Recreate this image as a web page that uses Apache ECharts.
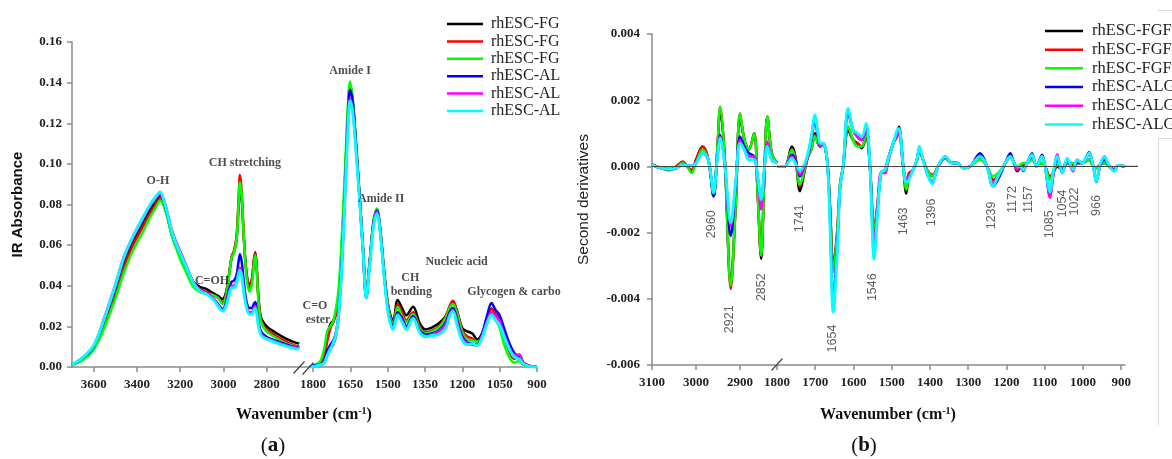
<!DOCTYPE html>
<html>
<head>
<meta charset="utf-8">
<script src="https://cdn.jsdelivr.net/npm/echarts@6/dist/echarts.min.js"></script>
<style>
  html, body { margin: 0; padding: 0; background: #fff; }
  #chart { width: 1172px; height: 459px; }
</style>
</head>
<body>
<div id="chart"></div>
<script>
const seriesNames = ['rhESC-FGF-1', 'rhESC-FGF-2', 'rhESC-FGF-3', 'rhESC-ALG-1', 'rhESC-ALG-2', 'rhESC-ALG-3'];
const colors = ['#000000', '#ff0000', '#00ff00', '#0000ff', '#ff00ff', '#00ffff'];

// ---- (a) IR absorbance, high wavenumber part ----
const absLeftWn = [
  3700, 3650, 3600, 3550, 3500, 3460, 3420, 3380, 3340, 3310,
  3293, 3275, 3260, 3240, 3220, 3200, 3170, 3140, 3110, 3080,
  3050, 3025, 3005, 2990, 2975, 2962, 2952, 2940, 2930, 2924,
  2916, 2905, 2893, 2880, 2868, 2860, 2853, 2846, 2838, 2828,
  2815, 2795, 2760, 2720, 2680, 2650];
const absLeftFGF1 = [
  0.001, 0.004, 0.0095, 0.022, 0.037, 0.051, 0.061, 0.069, 0.077, 0.0815,
  0.0845, 0.0805, 0.075, 0.066, 0.060, 0.055, 0.0485, 0.042, 0.0395, 0.0385,
  0.0365, 0.035, 0.0335, 0.036, 0.045, 0.054, 0.0565, 0.062, 0.079, 0.090,
  0.083, 0.062, 0.046, 0.0405, 0.0435, 0.052, 0.0565, 0.049, 0.034, 0.025,
  0.022, 0.0195, 0.017, 0.0145, 0.0125, 0.0115];
const absLeftFGF2 = [
  0.001, 0.0038, 0.009, 0.021, 0.0355, 0.049, 0.0595, 0.0675, 0.0755, 0.0805,
  0.083, 0.0795, 0.0745, 0.0655, 0.0595, 0.0545, 0.048, 0.0415, 0.0385, 0.037,
  0.0355, 0.034, 0.032, 0.035, 0.045, 0.0545, 0.057, 0.064, 0.083, 0.0945,
  0.087, 0.063, 0.045, 0.039, 0.043, 0.052, 0.056, 0.048, 0.033, 0.024,
  0.0205, 0.018, 0.0155, 0.013, 0.011, 0.010];
const absLeftFGF3 = [
  0.001, 0.0035, 0.0085, 0.0195, 0.0335, 0.0465, 0.057, 0.065, 0.0735, 0.079,
  0.082, 0.079, 0.074, 0.065, 0.059, 0.053, 0.046, 0.0395, 0.037, 0.036,
  0.0355, 0.034, 0.031, 0.034, 0.044, 0.054, 0.056, 0.062, 0.080, 0.091,
  0.085, 0.062, 0.044, 0.037, 0.041, 0.050, 0.055, 0.047, 0.032, 0.023,
  0.0195, 0.017, 0.0145, 0.012, 0.0105, 0.0095];
const absLeftALG1 = [
  0.001, 0.0045, 0.010, 0.0235, 0.039, 0.053, 0.063, 0.071, 0.079, 0.0835,
  0.0855, 0.0815, 0.0755, 0.067, 0.061, 0.056, 0.049, 0.042, 0.038, 0.0365,
  0.034, 0.031, 0.0285, 0.031, 0.038, 0.042, 0.0425, 0.045, 0.052, 0.0555,
  0.052, 0.041, 0.032, 0.029, 0.029, 0.031, 0.032, 0.028, 0.022, 0.018,
  0.016, 0.0145, 0.013, 0.0115, 0.010, 0.0095];
const absLeftALG2 = [
  0.001, 0.0048, 0.0105, 0.0245, 0.0405, 0.0545, 0.064, 0.072, 0.0795, 0.0835,
  0.085, 0.082, 0.0765, 0.068, 0.062, 0.057, 0.0495, 0.042, 0.038, 0.0365,
  0.034, 0.0305, 0.028, 0.030, 0.036, 0.040, 0.040, 0.042, 0.047, 0.049,
  0.046, 0.037, 0.030, 0.027, 0.027, 0.029, 0.030, 0.027, 0.021, 0.017,
  0.015, 0.014, 0.0125, 0.011, 0.0098, 0.0093];
const absLeftALG3 = [
  0.001, 0.0047, 0.0105, 0.024, 0.040, 0.054, 0.0638, 0.072, 0.0798, 0.0843,
  0.0862, 0.082, 0.076, 0.067, 0.061, 0.056, 0.0488, 0.0415, 0.0375, 0.036,
  0.0335, 0.030, 0.0275, 0.0295, 0.035, 0.039, 0.039, 0.041, 0.046, 0.0475,
  0.045, 0.036, 0.029, 0.026, 0.026, 0.028, 0.029, 0.026, 0.020, 0.016,
  0.0145, 0.0135, 0.012, 0.0105, 0.0093, 0.0088];

// ---- (a) IR absorbance, fingerprint part ----
const absRightWn = [
  1812, 1790, 1770, 1755, 1742, 1730, 1718, 1706, 1696, 1684,
  1671, 1660, 1651, 1640, 1626, 1613, 1599, 1586, 1573, 1557,
  1543, 1530, 1513, 1496, 1478, 1460, 1442, 1425, 1398, 1371,
  1348, 1321, 1294, 1267, 1251, 1238, 1220, 1200, 1180, 1160,
  1140, 1119, 1099, 1083, 1066, 1052, 1032, 1012, 992, 972,
  954, 931, 900];
const absRightFGF1 = [
  0, 0.001, 0.002, 0.006, 0.016, 0.021, 0.023, 0.027, 0.036, 0.058,
  0.093, 0.124, 0.139, 0.131, 0.108, 0.085, 0.059, 0.037, 0.051, 0.071,
  0.0775, 0.068, 0.046, 0.029, 0.0225, 0.033, 0.029, 0.0255, 0.0297, 0.0215,
  0.0185, 0.0195, 0.0215, 0.025, 0.029, 0.032, 0.027, 0.019, 0.0175, 0.0165,
  0.0135, 0.017, 0.024, 0.0288, 0.026, 0.024, 0.016, 0.009, 0.0045, 0.006,
  0.002, 0.0005, 0];
const absRightFGF2 = [
  0, 0.001, 0.002, 0.005, 0.013, 0.019, 0.022, 0.027, 0.037, 0.059,
  0.093, 0.123, 0.138, 0.130, 0.107, 0.084, 0.058, 0.035, 0.050, 0.071,
  0.0775, 0.068, 0.045, 0.028, 0.021, 0.031, 0.027, 0.023, 0.027, 0.020,
  0.017, 0.018, 0.020, 0.025, 0.030, 0.0326, 0.027, 0.018, 0.015, 0.014,
  0.0125, 0.016, 0.024, 0.0285, 0.026, 0.024, 0.015, 0.008, 0.004, 0.005,
  0.002, 0.0005, 0];
const absRightFGF3 = [
  0, 0.001, 0.003, 0.009, 0.018, 0.020, 0.023, 0.030, 0.040, 0.065,
  0.098, 0.128, 0.1405, 0.131, 0.108, 0.084, 0.057, 0.034, 0.051, 0.072,
  0.078, 0.068, 0.045, 0.028, 0.021, 0.0295, 0.025, 0.022, 0.026, 0.019,
  0.0165, 0.0175, 0.0195, 0.024, 0.029, 0.031, 0.026, 0.017, 0.0135, 0.013,
  0.0125, 0.0155, 0.022, 0.026, 0.023, 0.020, 0.011, 0.005, 0.002, 0.003,
  0.001, 0.0003, 0];
const absRightALG1 = [
  0, 0.001, 0.001, 0.003, 0.008, 0.011, 0.013, 0.018, 0.028, 0.052,
  0.088, 0.121, 0.1365, 0.130, 0.107, 0.084, 0.057, 0.034, 0.050, 0.071,
  0.077, 0.067, 0.044, 0.026, 0.020, 0.027, 0.024, 0.020, 0.025, 0.018,
  0.016, 0.0165, 0.018, 0.022, 0.027, 0.029, 0.023, 0.015, 0.012, 0.0115,
  0.011, 0.017, 0.026, 0.0315, 0.028, 0.026, 0.019, 0.012, 0.007, 0.005,
  0.002, 0.0005, 0];
const absRightALG2 = [
  0, 0.0005, 0.001, 0.002, 0.006, 0.009, 0.011, 0.016, 0.026, 0.049,
  0.085, 0.117, 0.132, 0.126, 0.105, 0.083, 0.057, 0.034, 0.050, 0.070,
  0.0765, 0.067, 0.044, 0.026, 0.019, 0.026, 0.023, 0.019, 0.024, 0.0175,
  0.015, 0.016, 0.0175, 0.021, 0.026, 0.028, 0.022, 0.014, 0.0115, 0.011,
  0.0105, 0.016, 0.023, 0.027, 0.025, 0.023, 0.016, 0.010, 0.006, 0.006,
  0.002, 0.0005, 0];
const absRightALG3 = [
  0, 0.0005, 0.001, 0.002, 0.006, 0.009, 0.012, 0.017, 0.027, 0.050,
  0.085, 0.116, 0.131, 0.125, 0.104, 0.082, 0.057, 0.034, 0.049, 0.069,
  0.0755, 0.066, 0.043, 0.025, 0.0185, 0.0255, 0.022, 0.0185, 0.024, 0.017,
  0.015, 0.0155, 0.016, 0.019, 0.025, 0.0275, 0.020, 0.013, 0.011, 0.0115,
  0.0105, 0.015, 0.022, 0.0256, 0.023, 0.021, 0.015, 0.009, 0.005, 0.004,
  0.0015, 0.0003, 0];

// ---- (b) second derivatives, high wavenumber part ----
const d2LeftWn = [
  3100, 3080, 3060, 3045, 3030, 3020, 3010, 3000, 2985, 2972,
  2960, 2952, 2945, 2935, 2921, 2910, 2900, 2890, 2880, 2868,
  2860, 2852, 2845, 2838, 2828, 2816];
const d2LeftFGF1 = [
  0.00005, -0.00005, -0.0001, -0.00005, 0.0001, 0, -0.00015, 0.0002, 0.0006, 0.0002,
  -0.0009, 0.0004, 0.0017, 0.0003, -0.0035, -0.0012, 0.0015, 0.0008, 0.0005, 0.0010,
  -0.0008, -0.0028, -0.0004, 0.0015, 0.0004, 0.0001];
const d2LeftFGF2 = [
  0.00005, -0.00005, -0.00012, 0, 0.00015, 0, -0.0001, 0.0002, 0.0006, 0.0002,
  -0.0009, 0.0004, 0.0018, 0.0003, -0.0037, -0.0012, 0.0016, 0.0008, 0.0005, 0.0010,
  -0.0008, -0.0027, -0.0004, 0.0015, 0.0004, 0.0001];
const d2LeftFGF3 = [
  0.00005, -0.00005, -0.0001, -0.00005, 0.0001, 0, -0.0002, 0.0001, 0.0005, 0.0002,
  -0.0009, 0.0004, 0.0018, 0.0003, -0.0036, -0.0012, 0.0016, 0.0008, 0.0005, 0.0010,
  -0.0008, -0.0027, -0.0004, 0.0015, 0.0004, 0.0001];
const d2LeftALG1 = [
  0.00005, -0.00005, -0.00008, -0.00005, 0.00005, 0.00003, 0.00002, 0.0001, 0.0004, 0.0002,
  -0.0009, 0.0002, 0.00095, 0.0001, -0.0021, -0.0006, 0.0009, 0.0006, 0.0004, 0.0003,
  -0.0003, -0.0011, -0.0001, 0.0007, 0.0002, 0.0001];
const d2LeftALG2 = [
  0.00005, -0.00005, -0.00008, -0.00005, 0.00005, 0.00003, 0.00002, 0.0001, 0.0004, 0.0002,
  -0.0008, 0.0002, 0.0009, 0.0001, -0.0018, -0.0005, 0.0008, 0.0005, 0.0003, 0.0003,
  -0.0004, -0.0013, -0.0002, 0.00075, 0.0002, 0.0001];
const d2LeftALG3 = [
  0.00005, -0.00005, -0.00008, -0.00005, 0.00005, 0.00003, 0.00002, 0.0001, 0.0004, 0.0002,
  -0.0008, 0.0002, 0.00085, 0.0001, -0.0017, -0.0005, 0.0007, 0.0005, 0.0002, 0.0002,
  -0.0003, -0.0010, -0.0001, 0.0006, 0.0002, 0.0001];

// ---- (b) second derivatives, fingerprint part ----
const d2RightWn = [
  1800, 1780, 1761, 1752, 1740, 1727, 1719, 1710, 1701, 1693,
  1687, 1680, 1669, 1661, 1653, 1643, 1635, 1627, 1614, 1601,
  1590, 1578, 1567, 1557, 1546, 1538, 1528, 1517, 1510, 1496,
  1486, 1481, 1470, 1462, 1455, 1444, 1434, 1428, 1418, 1408,
  1394, 1387, 1379, 1360, 1342, 1329, 1313, 1295, 1269, 1251,
  1235, 1222, 1203, 1190, 1180, 1172, 1164, 1156, 1146, 1133,
  1122, 1107, 1099, 1086, 1078, 1067, 1054, 1041, 1026, 1015,
  1002, 984, 973, 965, 955, 944, 931, 918, 908, 890];
const d2RightFGF1 = [
  0, 0, 0.0006, 0.0003, -0.00075, -0.0001, 0.0003, 0.0006, 0.0010, 0.0007,
  0.0006, 0.0007, 0.0002, -0.0013, -0.0031, -0.0021, -0.0006, 0, 0.0011, 0.0008,
  0.0007, 0.00055, 0.0009, 0, -0.0020, -0.0013, -0.0002, -0.0001, 0.0002, 0.0007,
  0.0010, 0.0012, 0, -0.00082, -0.0003, -0.0001, 0.0002, 0.0005, 0.0002, -0.0001,
  -0.0003, -0.0002, 0, 0.00025, 0.0001, 0.0001, -0.00005, 0, 0.0003, 0,
  -0.00042, -0.0003, 0.0001, 0.0003, 0.0001, -0.00015, -0.00005, 0, 0.0001, 0.00025,
  0.00005, 0.0001, 0, -0.00035, -0.0002, 0, -0.0001, 0.0001, 0, 0.0001,
  0.0001, 0.0002, 0, -0.00005, 0.00005, 0.0001, 0, -0.0001, 0.00003, 0];
const d2RightFGF2 = [
  0, 0, 0.0005, 0.0003, -0.0006, -0.00005, 0.0003, 0.0005, 0.00095, 0.0007,
  0.0006, 0.0007, 0.0002, -0.0013, -0.0030, -0.0020, -0.0005, 0, 0.0012, 0.0008,
  0.0007, 0.0006, 0.0010, 0, -0.0019, -0.0012, -0.0002, -0.0001, 0.0002, 0.0007,
  0.0010, 0.0011, 0, -0.0006, -0.0002, -0.0001, 0.0002, 0.0005, 0.0002, -0.0001,
  -0.00025, -0.0002, 0, 0.00025, 0.0001, 0.0001, -0.00005, 0, 0.00025, 0,
  -0.0004, -0.0003, 0.0001, 0.0003, 0.0001, -0.0001, 0, 0.00005, 0.0001, 0.0002,
  0.00005, 0.0001, 0, -0.0003, -0.0002, 0.00005, -0.0001, 0.0001, 0.00005, 0.0001,
  0.0001, 0.0002, 0, -0.00005, 0.00005, 0.0001, 0, -0.0001, 0.00003, 0];
const d2RightFGF3 = [
  0, 0, 0.0005, 0.0002, -0.00055, -0.00005, 0.0003, 0.0005, 0.0009, 0.0007,
  0.0006, 0.0007, 0.0002, -0.0014, -0.0032, -0.0021, -0.0005, 0, 0.0012, 0.0008,
  0.0006, 0.0006, 0.0010, 0, -0.0020, -0.0013, -0.0002, -0.0001, 0.0002, 0.0007,
  0.0010, 0.0011, 0, -0.0007, -0.0003, -0.0001, 0.0002, 0.0005, 0.0002, -0.0001,
  -0.0003, -0.0002, 0, 0.00025, 0.0001, 0.0001, -0.00005, 0, 0.0002, 0,
  -0.0003, -0.0002, 0.0001, 0.0003, 0.0001, 0, 0.00005, 0.0001, 0.0001, 0.0002,
  0.00005, 0.0001, 0, -0.0004, -0.0002, 0.00005, -0.00005, 0.00015, 0.0001, 0.0001,
  0.0001, 0.0002, 0, -0.00005, 0.00005, 0.0001, 0, -0.0001, 0.00003, 0];
const d2RightALG1 = [
  0, 0, 0.00035, 0.0002, -0.0003, 0.00005, 0.0003, 0.0008, 0.0014, 0.0009,
  0.0006, 0.0007, 0.0002, -0.0016, -0.0040, -0.0025, -0.0006, 0, 0.0016, 0.0011,
  0.0009, 0.0008, 0.0012, 0, -0.0025, -0.0015, -0.0002, -0.0001, 0.0002, 0.0007,
  0.0009, 0.0011, 0, -0.0004, -0.0003, -0.0001, 0.0002, 0.0005, 0.0002, -0.0002,
  -0.0005, -0.0003, 0, 0.00028, 0.0001, 0.0001, -0.00005, 0, 0.0004, 0,
  -0.0006, -0.0004, 0.0001, 0.0004, 0.0001, 0, 0, -0.0001, 0.0001, 0.0004,
  0, 0.00035, 0, -0.0009, -0.0003, 0.0002, -0.0001, 0.0002, -0.0001, 0.0001,
  0.0001, 0.00043, 0, -0.00047, 0, 0.0002, 0, -0.0001, 0.00003, 0];
const d2RightALG2 = [
  0, 0, 0.0003, 0.0001, -0.00025, 0.00005, 0.0003, 0.0009, 0.0015, 0.0010,
  0.0006, 0.0007, 0.0002, -0.0017, -0.0042, -0.0026, -0.0006, 0, 0.0017, 0.0011,
  0.0009, 0.0008, 0.0012, 0, -0.0023, -0.0014, -0.0002, -0.0002, 0.0001, 0.0007,
  0.0009, 0.0011, 0, -0.00035, -0.0003, -0.0001, 0.0002, 0.0005, 0.0002, -0.0002,
  -0.00045, -0.0003, 0, 0.0003, 0.0001, 0.0001, -0.00005, 0, 0.0003, 0,
  -0.0005, -0.0003, 0.0001, 0.0003, 0.0001, -0.0001, 0, -0.00015, 0.0001, 0.0003,
  0, 0.0003, 0, -0.00095, -0.0003, 0.00036, -0.0002, 0.0002, -0.00015, 0.0002,
  0.0001, 0.00035, 0, -0.0004, 0.00005, 0.0003, 0, -0.0001, 0.00003, 0];
const d2RightALG3 = [
  0, 0, 0.00025, 0.0001, -0.00012, 0.0001, 0.0004, 0.0009, 0.00155, 0.0010,
  0.0007, 0.0007, 0.0002, -0.0019, -0.0044, -0.0027, -0.0006, 0, 0.00175, 0.0011,
  0.0010, 0.0009, 0.0013, 0, -0.0028, -0.0016, -0.0002, -0.0001, 0.0002, 0.0007,
  0.0011, 0.00115, 0, -0.00047, -0.0004, -0.0001, 0.0002, 0.0006, 0.0002, -0.0002,
  -0.00052, -0.0003, 0, 0.0003, 0.0001, 0.0001, -0.00005, 0, 0.0003, 0,
  -0.0006, -0.0003, 0.0001, 0.0003, 0.0001, 0, 0, -0.0001, 0.0001, 0.00035,
  0, 0.0003, 0, -0.00077, -0.0002, 0.0003, -0.0002, 0.00025, -0.0001, 0.0002,
  0.0001, 0.0004, 0, -0.00045, 0.00005, 0.00028, 0, -0.00015, 0.00003, 0];

// tick labels
const absLeftTicks = [3600, 3400, 3200, 3000, 2800];
const absRightTicks = [1800, 1650, 1500, 1350, 1200, 1050, 900];
const d2LeftTicks = [3100, 3000, 2900];
const d2RightTicks = [1800, 1700, 1600, 1500, 1400, 1300, 1200, 1100, 1000, 900];

// band annotations (text, wavenumber, y position)
const absLeftNotes = ['O-H', 'CH stretching', 'C=OH'];
const absLeftNoteWn = [3303, 2901, 3053];
const absLeftNoteY = [0.0915, 0.1004, 0.0423];
const absRightNotes = ['C=O', 'ester', 'Amide I', 'Amide II', 'CH', 'bending', 'Nucleic acid'];
const absRightNoteWn = [1792, 1780, 1651, 1526, 1409, 1405, 1223];
const absRightNoteY = [0.030, 0.0231, 0.146, 0.0827, 0.0438, 0.0369, 0.0517];
const glycogenNote = ['Glycogen & carbohydrates', 1182, 0.0369];
const d2LeftNotes = ['2960', '2921', '2852'];
const d2LeftNoteWn = [2964, 2923, 2852];
const d2LeftNoteY = [-0.00175, -0.00462, -0.00365];
const d2RightNotes = ['1741', '1654', '1546', '1463', '1396', '1239', '1172', '1157', '1085', '1054', '1022', '966'];
const d2RightNoteWn = [1742, 1656, 1549, 1468, 1397, 1240, 1183, 1143, 1086, 1054, 1023, 965];
const d2RightNoteY = [-0.00157, -0.0052, -0.00365, -0.00166, -0.00139, -0.00148, -0.001, -0.001, -0.00175, -0.00112, -0.00106, -0.00118];

const serif = "'Liberation Serif', 'Times New Roman', serif";
const sans = "'Liberation Sans', Arial, sans-serif";
const axisGray = '#8a8a8a';

const zip = (xs, ys) => xs.map((x, i) => [x, ys[i]]);

function spectrumSeries(wn, sets, axisIdx) {
  return sets.map((ys, k) => ({
    name: seriesNames[k],
    type: 'line',
    xAxisIndex: axisIdx,
    yAxisIndex: axisIdx,
    data: zip(wn, ys),
    symbol: 'none',
    showSymbol: false,
    smooth: 0.35,
    lineStyle: { color: colors[k], width: k === 5 ? 2.9 : 2.5 },
    itemStyle: { color: colors[k] },
    silent: true
  }));
}

function noteSeries(texts, wns, ys, axisIdx, labelStyle) {
  return {
    type: 'scatter',
    xAxisIndex: axisIdx,
    yAxisIndex: axisIdx,
    symbolSize: 1,
    itemStyle: { color: 'rgba(0,0,0,0)' },
    silent: true,
    z: 6,
    data: texts.map((t, i) => ({ name: t, value: [wns[i], ys[i]] })),
    label: Object.assign({ show: true, position: 'inside', formatter: '{b}' }, labelStyle)
  };
}

function xAxisFor(grid, min, max, ticks) {
  return {
    type: 'value', gridIndex: grid, min: min, max: max, inverse: true,
    axisLine: { show: true, onZero: false, lineStyle: { color: axisGray, width: 1.5 } },
    axisTick: { show: true, length: 5, customValues: ticks, lineStyle: { color: axisGray, width: 1.5 } },
    axisLabel: {
      customValues: ticks, formatter: v => String(v), margin: 11,
      fontFamily: serif, fontWeight: 'bold', fontSize: 13, color: '#222'
    },
    splitLine: { show: false }
  };
}

const yAxisBase = {
  type: 'value',
  axisLine: { show: true, lineStyle: { color: axisGray, width: 1.5 } },
  axisTick: { show: true, length: 5, lineStyle: { color: axisGray, width: 1.5 } },
  splitLine: { show: false },
  nameLocation: 'middle'
};

const absNoteStyle = { fontFamily: serif, fontWeight: 'bold', fontSize: 12, color: '#222' };
const d2NoteStyle = { fontFamily: sans, fontSize: 12.5, color: '#333', rotate: 90 };

const option = {
  animation: false,
  backgroundColor: '#fff',
  grid: [
    { left: 72, top: 42, width: 238, height: 325, outerBoundsMode: 'none' },
    { left: 310, top: 42, width: 227, height: 325, outerBoundsMode: 'none' },
    { left: 652, top: 34, width: 125, height: 331, outerBoundsMode: 'none' },
    { left: 777, top: 34, width: 348, height: 331, outerBoundsMode: 'none' }
  ],
  xAxis: [
    xAxisFor(0, 2600, 3700, absLeftTicks),
    xAxisFor(1, 900, 1812, absRightTicks),
    xAxisFor(2, 2816, 3100, d2LeftTicks),
    xAxisFor(3, 890, 1800, d2RightTicks)
  ],
  yAxis: [
    Object.assign({}, yAxisBase, {
      gridIndex: 0, min: 0, max: 0.16, interval: 0.02,
      axisLabel: { formatter: v => v.toFixed(2), margin: 10, fontFamily: serif, fontWeight: 'bold', fontSize: 13, color: '#222' },
      name: 'IR Absorbance', nameGap: 47,
      nameTextStyle: { fontFamily: sans, fontWeight: 'bold', fontSize: 15, color: '#111' }
    }),
    { type: 'value', gridIndex: 1, min: 0, max: 0.16, show: false },
    Object.assign({}, yAxisBase, {
      gridIndex: 2, min: -0.006, max: 0.004, interval: 0.002,
      axisLabel: { formatter: v => v.toFixed(3), margin: 12, fontFamily: serif, fontWeight: 'bold', fontSize: 13, color: '#222' },
      name: 'Second derivatives', nameGap: 60,
      nameTextStyle: { fontFamily: sans, fontSize: 15.5, color: '#222' }
    }),
    { type: 'value', gridIndex: 3, min: -0.006, max: 0.004, show: false }
  ],
  legend: [
    {
      data: seriesNames, orient: 'vertical', left: 447, top: 15.3, padding: 0,
      icon: 'rect', itemWidth: 36, itemHeight: 2.5, itemGap: 0, selectedMode: false,
      textStyle: {
        fontFamily: serif, fontSize: 16, lineHeight: 17.4, color: '#222',
        padding: [0, 0, 0, 3], width: 75, overflow: 'truncate', ellipsis: ''
      }
    },
    {
      data: seriesNames, orient: 'vertical', left: 1045, top: 21.6, padding: 0,
      icon: 'rect', itemWidth: 38, itemHeight: 2.5, itemGap: 0, selectedMode: false,
      textStyle: { fontFamily: serif, fontSize: 16.5, lineHeight: 18.7, color: '#222', padding: [0, 0, 0, 4] }
    }
  ],
  series: [].concat(
    spectrumSeries(absLeftWn, [absLeftFGF1, absLeftFGF2, absLeftFGF3, absLeftALG1, absLeftALG2, absLeftALG3], 0),
    spectrumSeries(absRightWn, [absRightFGF1, absRightFGF2, absRightFGF3, absRightALG1, absRightALG2, absRightALG3], 1),
    spectrumSeries(d2LeftWn, [d2LeftFGF1, d2LeftFGF2, d2LeftFGF3, d2LeftALG1, d2LeftALG2, d2LeftALG3], 2),
    spectrumSeries(d2RightWn, [d2RightFGF1, d2RightFGF2, d2RightFGF3, d2RightALG1, d2RightALG2, d2RightALG3], 3),
    [2, 3].map(idx => ({
      type: 'line', xAxisIndex: idx, yAxisIndex: idx, data: [], z: 5, silent: true,
      markLine: {
        silent: true, symbol: 'none', label: { show: false },
        lineStyle: { color: '#444', width: 1.2, type: 'solid' },
        data: [{ yAxis: 0 }]
      }
    })),
    [
      noteSeries(absLeftNotes, absLeftNoteWn, absLeftNoteY, 0, absNoteStyle),
      noteSeries(absRightNotes, absRightNoteWn, absRightNoteY, 1, absNoteStyle),
      noteSeries([glycogenNote[0]], [glycogenNote[1]], [glycogenNote[2]], 1,
        Object.assign({}, absNoteStyle, { position: 'right', distance: 0, width: 95, overflow: 'truncate', ellipsis: '' })),
      noteSeries(d2LeftNotes, d2LeftNoteWn, d2LeftNoteY, 2, d2NoteStyle),
      noteSeries(d2RightNotes, d2RightNoteWn, d2RightNoteY, 3, d2NoteStyle)
    ]
  )
};

const chart = echarts.init(document.getElementById('chart'));
chart.setOption(option);

// decorations: axis-break slashes, titles, panel letters
const aBreakX = chart.convertToPixel({ xAxisIndex: 0 }, 2600);
const aBaseY = chart.convertToPixel({ yAxisIndex: 0 }, 0);
const bBreakX = chart.convertToPixel({ xAxisIndex: 3 }, 1800);
const bBaseY = chart.convertToPixel({ yAxisIndex: 2 }, -0.006);
const bZeroY = chart.convertToPixel({ yAxisIndex: 3 }, 0);
const bEndX = chart.convertToPixel({ xAxisIndex: 3 }, 890);

const slash = (cx, cy) => ({
  type: 'line', silent: true, z: 20,
  shape: { x1: cx - 5.5, y1: cy + 6, x2: cx + 5.5, y2: cy - 6 },
  style: { stroke: '#444', lineWidth: 1.2 }
});
const titleRich = {
  t: { fontFamily: serif, fontWeight: 'bold', fontSize: 16, fill: '#111', lineHeight: 18 },
  s: { fontFamily: serif, fontWeight: 'bold', fontSize: 10, fill: '#111', lineHeight: 10, verticalAlign: 'top' }
};
const letterRich = {
  p: { fontFamily: serif, fontSize: 21, fill: '#111' },
  l: { fontFamily: serif, fontWeight: 'bold', fontSize: 21, fill: '#111' }
};
const grayLine = (x1, y1, x2, y2) => ({
  type: 'line', silent: true, shape: { x1, y1, x2, y2 }, style: { stroke: '#dcdcdc', lineWidth: 1 }
});

chart.setOption({
  graphic: [
    slash(aBreakX - 11, aBaseY + 0.5),
    slash(aBreakX - 2, aBaseY + 1.5),
    slash(bBreakX, bBaseY - 0.5),
    { type: 'line', silent: true, shape: { x1: bEndX, y1: bZeroY, x2: bEndX + 13, y2: bZeroY },
      style: { stroke: '#444', lineWidth: 1.2 } },
    { type: 'text', x: 304, y: 415, silent: true,
      style: { text: '{t|Wavenumber (cm}{s|-1}{t|)}', rich: titleRich, align: 'center', verticalAlign: 'middle' } },
    { type: 'text', x: 888, y: 415, silent: true,
      style: { text: '{t|Wavenumber (cm}{s|-1}{t|)}', rich: titleRich, align: 'center', verticalAlign: 'middle' } },
    { type: 'text', x: 273, y: 446, silent: true,
      style: { text: '{p|(}{l|a}{p|)}', rich: letterRich, align: 'center', verticalAlign: 'middle' } },
    { type: 'text', x: 864, y: 446, silent: true,
      style: { text: '{p|(}{l|b}{p|)}', rich: letterRich, align: 'center', verticalAlign: 'middle' } },
    grayLine(1158, 10.5, 1172, 10.5),
    grayLine(1158.5, 138, 1158.5, 425),
    grayLine(1158, 138.5, 1172, 138.5)
  ]
});
</script>
</body>
</html>
